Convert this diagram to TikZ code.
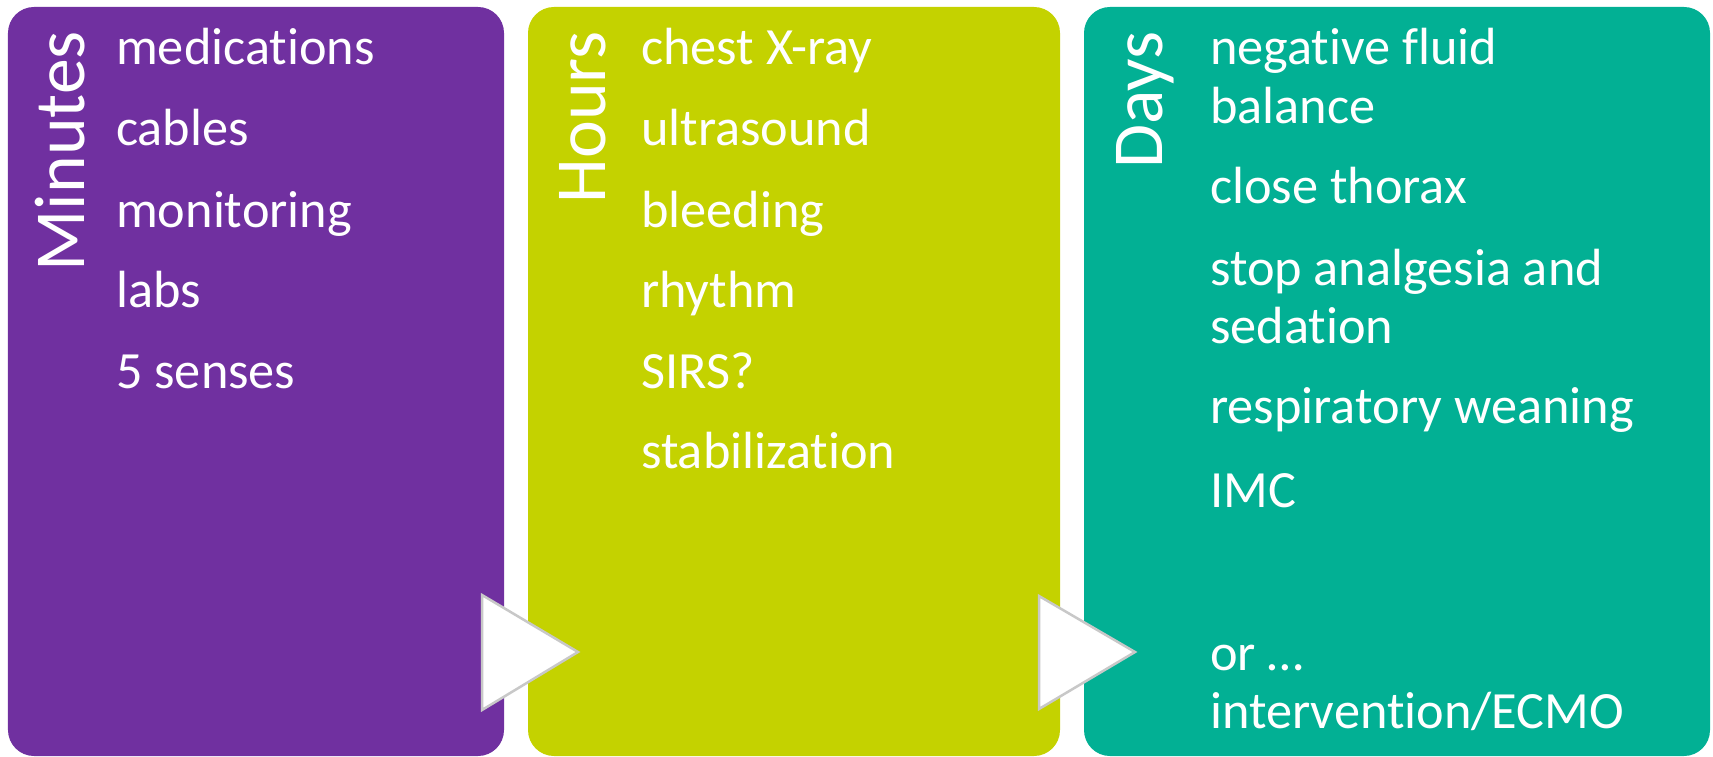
\documentclass[tikz,border=0pt]{standalone}
\usepackage{fontspec}
\setmainfont[Ligatures=NoCommon]{Carlito}
\definecolor{purp}{RGB}{112,48,160}
\definecolor{lime}{RGB}{196,210,0}
\definecolor{teal}{RGB}{2,176,148}
\definecolor{tribord}{RGB}{200,200,200}
\begin{document}
\begin{tikzpicture}[x=1bp,y=-1bp,
  panel/.style={draw=none, rounded corners=26bp, inner sep=0pt, minimum height=749bp},
  title/.style={text=white, rotate=90, anchor=base east, inner sep=0pt, font=\fontsize{72}{72}\selectfont},
  item/.style={text=white, anchor=base west, inner sep=0pt, font=\fontsize{52.5}{58}\selectfont},
  tri/.style={fill=white, draw=tribord, line width=2.5bp, line join=miter}]
\useasboundingbox (0,0) rectangle (1713,757);
% panels
\node[panel, fill=purp, minimum width=496bp] (p1) at (256,381.5) {};
\node[panel, fill=lime, minimum width=532bp] (p2) at (794,381.5) {};
\node[panel, fill=teal, minimum width=626bp] (p3) at (1397,381.5) {};
% titles
\node[title] (t1) at (84,31) {Minutes};
\node[title] (t2) at (605,31) {Hours};
\node[title] (t3) at (1162,31) {Days};
% panel 1 items
\node[item] (a1) at (116,65) {medications};
\node[item] (a2) at (116,145) {cables};
\node[item] (a3) at (116,227) {monitoring};
\node[item] (a4) at (116,307) {labs};
\node[item] (a5) at (116,388) {5 senses};
% panel 2 items
\node[item] (b1) at (641,65) {chest X-ray};
\node[item] (b2) at (641,145) {ultrasound};
\node[item] (b3) at (641,227) {bleeding};
\node[item] (b4) at (641,307) {rhythm};
\node[item] (b5) at (641,388) {SIRS?};
\node[item] (b6) at (641,468) {stabilization};
% panel 3 items
\node[item] (c1) at (1210,65) {negative fluid};
\node[item] (c1b) at (1210,123) {balance};
\node[item] (c2) at (1210,203) {close thorax};
\node[item] (c3) at (1210,285) {stop analgesia and};
\node[item] (c3b) at (1210,343) {sedation};
\node[item] (c4) at (1210,423) {respiratory weaning};
\node[item] (c5) at (1210,507) {IMC};
\node[item] (c6) at (1210,670) {or \dots};
\node[item] (c6b) at (1210,728) {intervention/ECMO};
% arrows
\draw[tri] (482,595) -- (482,710) -- (578,652) -- cycle;
\draw[tri] (1039,596) -- (1039,709) -- (1135,652) -- cycle;
\end{tikzpicture}
\end{document}
